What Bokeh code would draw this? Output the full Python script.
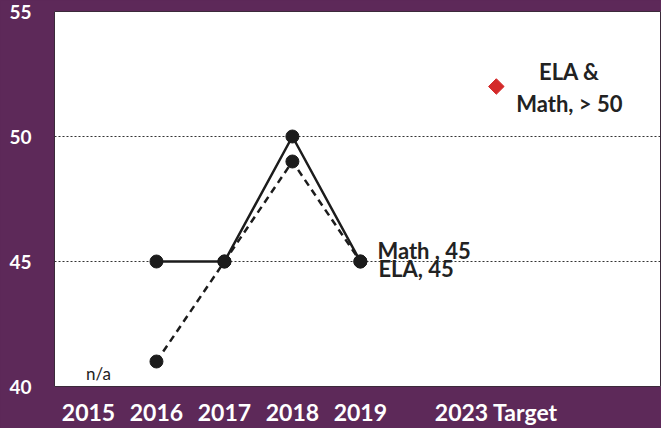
import math
from bokeh.plotting import figure
from bokeh.models import FixedTicker, ColumnDataSource, Range1d, GlobalInlineStyleSheet
from bokeh.core.properties import value
from bokeh.embed import file_html
from bokeh.resources import INLINE

# ---- data ----
categories = ["2015", "2016", "2017", "2018", "2019", "", "2023 Target"]
years = ["2016", "2017", "2018", "2019"]
math_vals = [45, 45, 50, 45]
ela_vals = [41, 45, 49, 45]
target_cat = "2023 Target"
target_val = 52
target_label = "ELA &\nMath, > 50"
math_label = "Math , 45"
ela_label = "ELA, 45"
na_cat = "2015"
na_label = "n/a"
y_ticks = [40, 45, 50, 55]
grid_lines = [45, 50]

PURPLE = "#5d2959"
INK = "#1c1c1c"
FONT = "Lato"

xi = {c: i for i, c in enumerate(categories)}
tick_pos = [i for i, c in enumerate(categories) if c]

p = figure(width=661, height=428, output_backend="svg", toolbar_location=None,
           x_range=Range1d(-0.5, 8.43), y_range=Range1d(40, 55),
           min_border_left=54, min_border_right=0, min_border_top=11, min_border_bottom=42)
p.background_fill_color = "white"
p.border_fill_color = PURPLE
p.outline_line_color = "#3b2a3a"
p.outline_line_width = 1
p.stylesheets = [GlobalInlineStyleSheet(css="body{background-color:%s;}" % PURPLE)]

# axes
p.xaxis.ticker = FixedTicker(ticks=tick_pos)
p.xaxis.major_label_overrides = {i: categories[i] for i in tick_pos}
p.yaxis.ticker = FixedTicker(ticks=y_ticks)
for ax in (p.xaxis[0], p.yaxis[0]):
    ax.axis_line_color = None
    ax.major_tick_line_color = None
    ax.minor_tick_line_color = None
    ax.major_label_text_color = "white"
    ax.major_label_text_font = FONT
    ax.major_label_text_font_style = "bold"
p.xaxis.major_label_text_font_size = "23px"
p.xaxis.major_label_standoff = 5
p.yaxis.major_label_text_font_size = "19px"
p.yaxis.major_label_standoff = 17

p.xgrid.grid_line_color = None
p.ygrid.ticker = FixedTicker(ticks=grid_lines)
p.ygrid.grid_line_color = "#333333"
p.ygrid.grid_line_dash = "2 2"
p.ygrid.grid_line_width = 1

# series
xs = [xi[y] for y in years]
src = ColumnDataSource(dict(x=xs, math=math_vals, ela=ela_vals))
p.line("x", "ela", source=src, line_color=INK, line_width=2.5, line_dash="7 5")
p.line("x", "math", source=src, line_color=INK, line_width=2.5)
p.scatter("x", "ela", source=src, size=13, color=INK)
p.scatter("x", "math", source=src, size=13, color=INK)

# target
tx = xi[target_cat]
p.scatter([tx], [target_val], marker="square", size=11, angle=math.pi / 4,
          color="#d42a2a")
p.text([tx], [target_val], text=[target_label], x_offset=73, y_offset=1,
       text_align="center", text_baseline="middle", text_line_height=1.2,
       text_font=value(FONT), text_font_style="bold", text_font_size="22px",
       text_color="#222222")

# end labels
lx = xi[years[-1]]
p.text([lx], [math_vals[-1]], text=[math_label], x_offset=17, y_offset=-11,
       text_align="left", text_baseline="alphabetic",
       text_font=value(FONT), text_font_style="bold", text_font_size="22px",
       text_color="#222222")
p.text([lx], [ela_vals[-1]], text=[ela_label], x_offset=18, y_offset=7,
       text_align="left", text_baseline="alphabetic",
       text_font=value(FONT), text_font_style="bold", text_font_size="22px",
       text_color="#222222")

# n/a
p.text([xi[na_cat]], [40], text=[na_label], x_offset=10, y_offset=-13,
       text_align="center", text_baseline="alphabetic",
       text_font=value(FONT), text_font_size="17px", text_color="#222222")

open("out.html", "w").write(file_html(p, INLINE))
